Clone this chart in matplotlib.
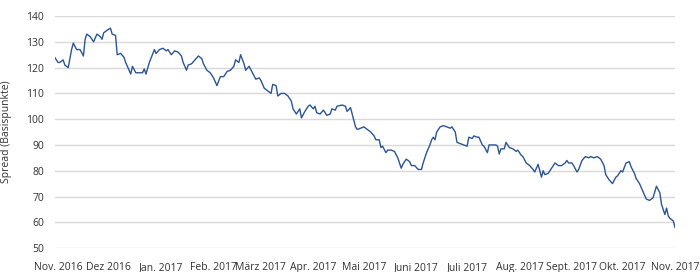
import matplotlib.pyplot as plt
import pandas as pd

# days since 1 Nov 2016 and spread in basis points
days = [-2, 0, 1, 3, 4, 6, 8, 9, 11, 13, 15, 16, 17, 19, 21, 23, 25, 26, 27, 29,
        31, 32, 34, 35, 37, 39, 40, 42, 43, 44, 46, 48, 50, 51, 52, 54, 57, 58, 60, 62,
        64, 65, 67, 69, 71, 73, 74, 76, 77, 79, 81, 83, 85, 86, 88, 90, 92, 94, 96, 98,
        100, 102, 104, 105, 107, 108, 110, 111, 113, 115, 117, 119, 120, 122, 124, 126, 127, 129, 130, 132,
        134, 136, 138, 139, 141, 143, 144, 146, 148, 149, 151, 152, 153, 155, 157, 159, 161, 162, 164, 165,
        168, 170, 171, 173, 174, 176, 177, 179, 181, 183, 185, 187, 188, 190, 191, 192, 194, 195, 197, 199,
        201, 203, 204, 206, 208, 209, 211, 213, 215, 216, 218, 220, 221, 222, 223, 224, 226, 228, 230, 232,
        233, 235, 236, 238, 240, 242, 243, 245, 246, 248, 249, 251, 252, 254, 255, 257, 259, 260, 261, 262,
        264, 265, 267, 269, 271, 272, 274, 275, 277, 279, 281, 282, 283, 284, 285, 286, 287, 288, 290, 292,
        294, 296, 298, 300, 301, 302, 304, 305, 307, 308, 310, 312, 314, 315, 317, 319, 321, 323, 324, 326,
        328, 330, 331, 333, 334, 336, 338, 339, 341, 342, 344, 346, 348, 350, 352, 354, 356, 357, 359, 360,
        361, 362, 364, 365]
spread = [124, 122, 122, 123, 121, 120, 127, 129.5, 127, 127, 124.5, 131, 133, 132, 130, 133, 132, 131, 133.5, 134.5,
          135.3, 133, 132.5, 125, 125.5, 124, 122, 119, 117.5, 120.5, 118, 118, 118, 119.5, 117.5, 122, 127, 125.5, 127, 127.5,
          126.5, 127, 125, 126.5, 126, 124.5, 122, 119, 121, 121.5, 123, 124.5, 123.5, 121.5, 119, 118, 116, 113, 116.5, 116.5,
          118.5, 119, 120.5, 123, 122, 125, 121.5, 119, 120.5, 118, 115.5, 116, 115, 112, 111, 110, 113.5, 113, 109, 110,
          110, 109, 107, 104, 102, 104, 100.5, 103, 105, 105.5, 104, 105, 102.5, 102, 103.5, 101.5, 102, 104, 103.5, 105,
          105.5, 105, 103, 104.5, 102, 97, 96, 96.5, 97, 96, 95, 93.5, 92, 92, 89, 89.5, 87, 88, 88, 87.5,
          85, 81, 82.5, 84.5, 83.5, 82, 82, 80.5, 80.5, 83, 87, 90, 92, 93, 92, 95, 97, 97.5, 97, 96.5,
          97, 95, 91, 90.5, 90, 89.5, 93, 92.5, 93.5, 93, 93, 90, 89.5, 87, 90, 90, 90, 89.5, 86.5, 88.5,
          88.5, 91, 89, 88.5, 87.5, 88, 86, 85.5, 83, 82, 80.5, 79.5, 81, 82.5, 80, 77.5, 80, 78.5, 79, 81,
          83, 82, 82, 83, 84, 83, 83, 82, 79.5, 80.5, 84, 85.5, 85, 85.5, 85, 85.5, 84.5, 82, 78.5, 76.5,
          75, 77.5, 78, 80, 79.5, 83, 83.5, 81.5, 79, 77, 75, 72, 69, 68.5, 69.5, 74, 71.5, 67, 63, 65.5,
          62.5, 61.5, 60.5, 58]
month_labels = ['Nov. 2016', 'Dez 2016', 'Jan. 2017', 'Feb. 2017', 'März 2017', 'Apr. 2017', 'Mai 2017',
                'Juni 2017', 'Juli 2017', 'Aug. 2017', 'Sept. 2017', 'Okt. 2017', 'Nov. 2017']
y_ticks = [50, 60, 70, 80, 90, 100, 110, 120, 130, 140]

start = pd.Timestamp('2016-11-01')
dates = [start + pd.Timedelta(days=d) for d in days]
month_starts = pd.date_range('2016-11-01', periods=len(month_labels), freq='MS')

plt.rcParams['font.family'] = ['Open Sans', 'DejaVu Sans']
text_col = '#333333'

fig = plt.figure(figsize=(7, 2.72), dpi=100)
ax = fig.add_axes([0.0786, 0.088, 0.8857, 0.853])

ax.plot(dates, spread, color='#2b5595', linewidth=1.0)

ax.set_ylim(50, 140)
ax.set_xlim(start - pd.Timedelta(days=1.8), start + pd.Timedelta(days=365))
ax.set_yticks(y_ticks)
ax.set_xticks(month_starts)
ax.set_xticklabels(month_labels)
ax.grid(axis='y', color='#d9d9d9', linewidth=1.0)
ax.set_axisbelow(True)
for s in ax.spines.values():
    s.set_visible(False)
ax.tick_params(length=0, labelsize=7.5, colors=text_col)
ax.tick_params(axis='y', pad=8)
ax.tick_params(axis='x', pad=10)
ax.set_ylabel('Spread (Basispunkte)', fontsize=7.5, color=text_col, labelpad=10)

fig.savefig('out.png', dpi=100)
